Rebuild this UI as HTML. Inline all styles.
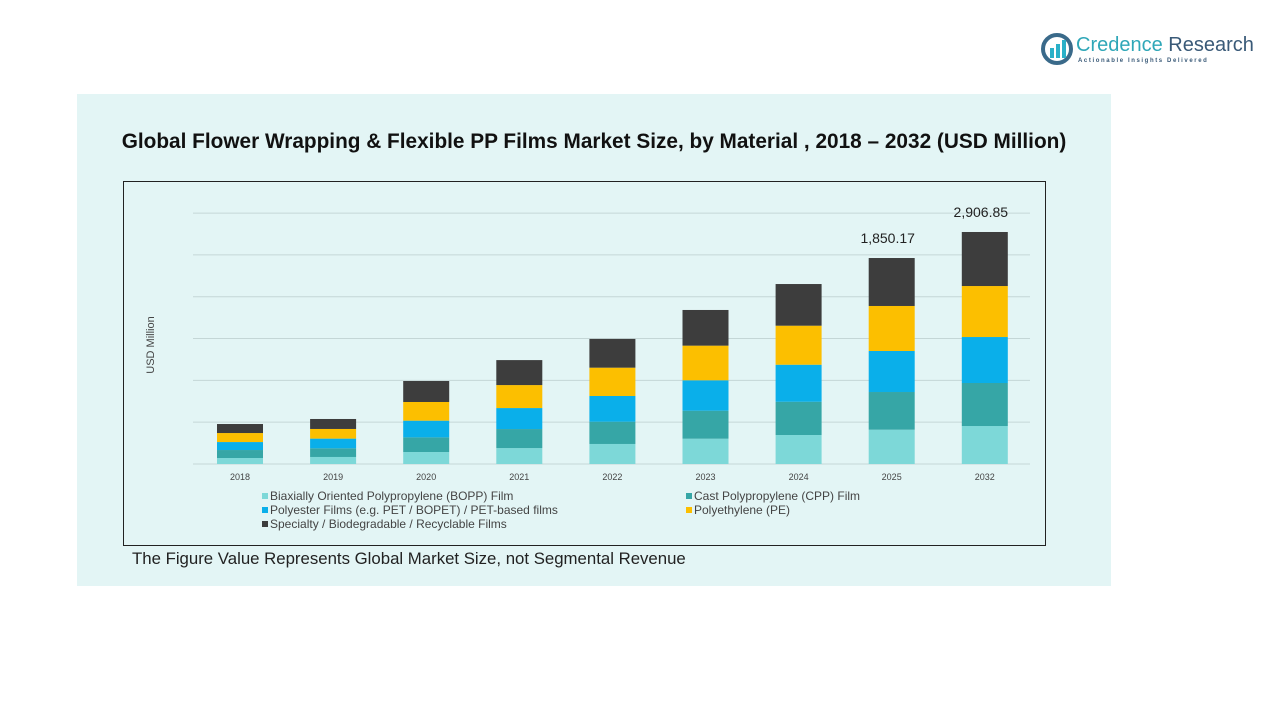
<!DOCTYPE html>
<html><head><meta charset="utf-8"><style>
body{margin:0;width:1280px;height:720px;background:#fff;position:relative;overflow:hidden;font-family:"Liberation Sans",sans-serif}
#panel{position:absolute;left:77px;top:94px;width:1034px;height:492px;background:#e3f5f5}
#title{position:absolute;left:77px;width:1034px;top:130px;text-align:center;font-weight:bold;font-size:20.8px;color:#111;white-space:nowrap}
#box{position:absolute;left:123px;top:181px;width:921px;height:363px;border:1px solid #222}
#foot{position:absolute;left:132px;top:549px;font-size:16.8px;color:#222;white-space:nowrap}
#logo{position:absolute;left:1040px;top:32px}
</style></head><body>
<div id="panel"></div>
<div id="title">Global Flower Wrapping &amp; Flexible PP Films Market Size, by Material , 2018 – 2032 (USD Million)</div>
<div id="box"></div>
<div id="foot">The Figure Value Represents Global Market Size, not Segmental Revenue</div>
<div id="logo">
<svg width="220" height="36"><circle cx="17" cy="17" r="14" fill="none" stroke="#3a6a8a" stroke-width="4"/><rect x="10" y="16" width="4" height="10" fill="#2ab0c8"/><rect x="16" y="12" width="4" height="14" fill="#2ab0c8"/><rect x="22" y="8" width="4" height="18" fill="#2ab0c8"/>
<text x="36" y="19" font-size="20" fill="#2fa7b8" font-family="Liberation Sans">Credence <tspan fill="#3a5a78">Research</tspan></text>
<text x="38" y="30" font-size="6" fill="#3a5a78" letter-spacing="1.6" font-weight="bold">Actionable Insights Delivered</text></svg></div>
<svg id="chart" width="1280" height="720" style="position:absolute;left:0;top:0"></svg>
<script>
const categories=["2018","2019","2020","2021","2022","2023","2024","2025","2032"];
const bopp=[75,88,150,200,251,317,363,430,476];
const cpp=[100,109,184,238,279,351,417,472,539];
const pet=[100,121,209,263,322,381,464,514,576];
const pe=[113,121,234,288,355,434,489,564,639];
const spec=[113,125,263,313,360,447,522,601,677];
const totalLabels={"2025":"1,850.17","2032":"2,906.85"};
const series=[bopp,cpp,pet,pe,spec];
const colors=["#7dd8d8","#36a6a6","#0aafea","#fcbf00","#3d3d3d"];
const names=["Biaxially Oriented Polypropylene (BOPP) Film","Cast Polypropylene (CPP) Film","Polyester Films (e.g. PET / BOPET) / PET-based films","Polyethylene (PE)","Specialty / Biodegradable / Recyclable Films"];
const NS="http://www.w3.org/2000/svg",svg=document.getElementById('chart');
const base=464,unitPx=1/12.53,x0=240,step=93.1,bw=46;
const y=v=>base-v*unitPx, x=i=>x0+i*step;
function mk(t,a,txt){const e=document.createElementNS(NS,t);for(const k in a)e.setAttribute(k,a[k]);if(txt)e.textContent=txt;svg.appendChild(e);return e;}
for(let g=0;g<=6;g++){const gy=y(g*524);
const l=mk('line',{x1:193,x2:1030,y1:gy,y2:gy,stroke:'#c4d6d6','stroke-width':1});

}
const yt=mk('text',{x:0,y:0,transform:'translate(154,345) rotate(-90)','text-anchor':'middle','font-size':11,fill:'#444'},'USD Million');


categories.forEach((c,i)=>{let acc=0;
series.forEach((s,j)=>{const r=mk('rect',{x:x(i)-bw/2,y:y(acc+s[i]),width:bw,height:s[i]*unitPx,fill:colors[j]});


acc+=s[i];});
const t=mk('text',{x:x(i),y:480,'text-anchor':'middle','font-size':9,fill:'#444'},c);


if(totalLabels[c]){const v=mk('text',{x:x(i)-4,y:y(acc)-15,'text-anchor':'middle','font-size':14,fill:'#222'},totalLabels[c]);

}
});
const lp=[[262,500],[686,500],[262,514],[686,514],[262,528]];
names.forEach((n,j)=>{const r=mk('rect',{x:lp[j][0],y:lp[j][1]-7,width:6,height:6,fill:colors[j]});


const t=mk('text',{x:lp[j][0]+8,y:lp[j][1],'font-size':12,fill:'#444'},n);

});
</script>
</body></html>
